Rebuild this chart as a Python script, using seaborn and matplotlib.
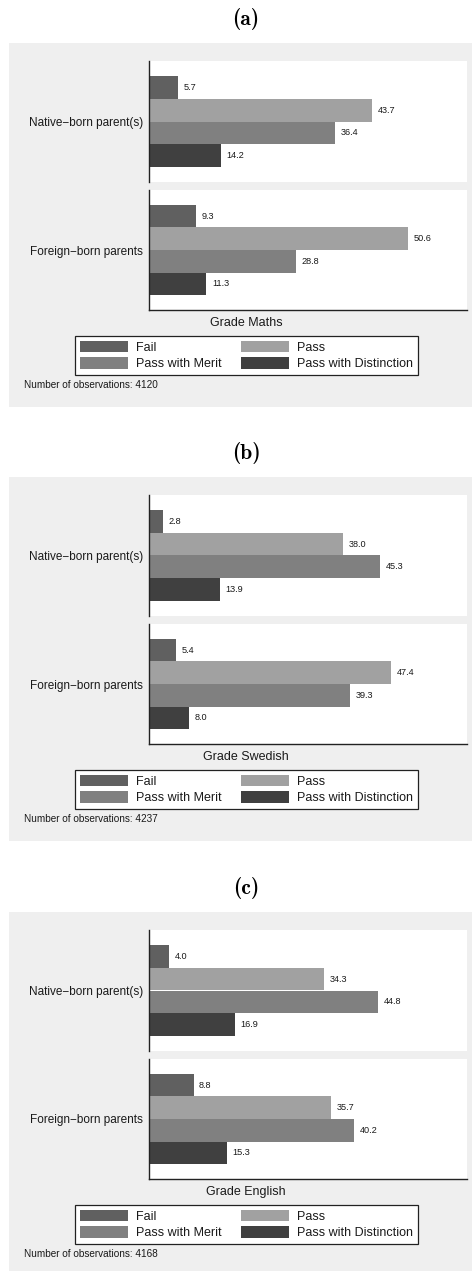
import os
import matplotlib
matplotlib.use("Agg")
import matplotlib.pyplot as plt
from matplotlib.patches import Rectangle, Patch
from matplotlib.font_manager import FontProperties
import pandas as pd
import seaborn as sns

# Grade categories and parental background groups
grades = ["Fail", "Pass", "Pass with Merit", "Pass with Distinction"]
groups = ["Native−born parent(s)", "Foreign−born parents"]
subjects = ["Maths", "Swedish", "English"]
panel_tags = ["a", "b", "c"]
n_obs = [4120, 4237, 4168]

# Share of pupils (%) per grade
maths_native = [5.7, 43.7, 36.4, 14.2]
maths_foreign = [9.3, 50.6, 28.8, 11.3]
swedish_native = [2.8, 38.0, 45.3, 13.9]
swedish_foreign = [5.4, 47.4, 39.3, 8.0]
english_native = [4.0, 34.3, 44.8, 16.9]
english_foreign = [8.8, 35.7, 40.2, 15.3]

panel_values = [
    [maths_native, maths_foreign],
    [swedish_native, swedish_foreign],
    [english_native, english_foreign],
]

grade_colors = ["#606060", "#a1a1a1", "#808080", "#404040"]

W, H = 472, 1271
sns.set_style("white")
plt.rcParams["font.family"] = ["Liberation Sans", "DejaVu Sans"]
plt.rcParams["mathtext.fontset"] = "cm"

# Computer Modern bold for the panel tags
cmb_path = os.path.join(matplotlib.get_data_path(), "fonts", "ttf", "cmb10.ttf")
if os.path.exists(cmb_path):
    tag_font = FontProperties(fname=cmb_path, size=15.5)
else:
    tag_font = FontProperties(family="DejaVu Serif", weight="bold", size=14)

fig = plt.figure(figsize=(W / 100, H / 100), dpi=100)
fig.patch.set_facecolor("white")


def fx(x):
    return x / W


def fy(y):
    return 1 - y / H


def add_axes_px(x0, y0, x1, y1):
    return fig.add_axes([fx(x0), fy(y1), (x1 - x0) / W, (y1 - y0) / H])


XMAX = 62.2
offsets = [0, 434, 869]
text_color = "#1a1a1a"

for i, (subj, tag, n, off) in enumerate(zip(subjects, panel_tags, n_obs, offsets)):
    # light grey graph region
    fig.patches.append(Rectangle((fx(9), fy(407 + off)), (W - 9) / W, 364 / H,
                                 transform=fig.transFigure, facecolor="#efefef",
                                 edgecolor="none", zorder=-1))
    fig.text(fx(246), fy(19 + off), f"({tag})", ha="center", va="center",
             fontproperties=tag_font, color="black")

    for j, (grp, top, bot) in enumerate(zip(groups, [61, 190], [182, 310])):
        ax = add_axes_px(148.5, top + off, 467, bot + off)
        df = pd.DataFrame({"grade": grades, "pct": panel_values[i][j]})
        sns.barplot(data=df, x="pct", y="grade", hue="grade", order=grades,
                    hue_order=grades, palette=grade_colors, orient="h",
                    width=1.0, legend=False, ax=ax, linewidth=0)
        for c in ax.containers:
            ax.bar_label(c, fmt="%.1f", padding=4, fontsize=6.6, color=text_color)
        ax.set_xlim(0, XMAX)
        ax.set_ylim(4.16, -1.16)
        ax.set_yticks([1.5])
        ax.set_yticklabels([grp], fontsize=8.5, color=text_color)
        ax.tick_params(axis="y", length=0, pad=4)
        ax.set_xticks([])
        ax.set_xlabel("")
        ax.set_ylabel("")
        ax.set_facecolor("white")
        for s in ("top", "right"):
            ax.spines[s].set_visible(False)
        ax.spines["left"].set_color("#222222")
        ax.spines["left"].set_linewidth(1.0)
        ax.spines["bottom"].set_visible(j == 1)
        ax.spines["bottom"].set_color("#222222")
        ax.spines["bottom"].set_linewidth(1.0)

    fig.text(fx(246), fy(323 + off), f"Grade {subj}", ha="center", va="center",
             fontsize=9, color=text_color)

    order = [0, 2, 1, 3]
    handles = [Patch(facecolor=grade_colors[k], edgecolor="none", label=grades[k])
               for k in order]
    leg = fig.legend(handles=handles, loc="center",
                     bbox_to_anchor=(fx(246.5), fy(355.5 + off)), ncol=2,
                     fontsize=9, frameon=True, fancybox=False, edgecolor="#222222",
                     facecolor="white", framealpha=1, handlelength=3.85,
                     handleheight=1.05, handletextpad=0.64, columnspacing=1.5,
                     labelspacing=0.26, borderpad=0.4)
    leg.get_frame().set_linewidth(0.9)
    for t in leg.get_texts():
        t.set_color(text_color)

    fig.text(fx(24), fy(385 + off), f"Number of observations: {n}", ha="left",
             va="center", fontsize=7.2, color=text_color)

fig.savefig("out.png", dpi=100)
